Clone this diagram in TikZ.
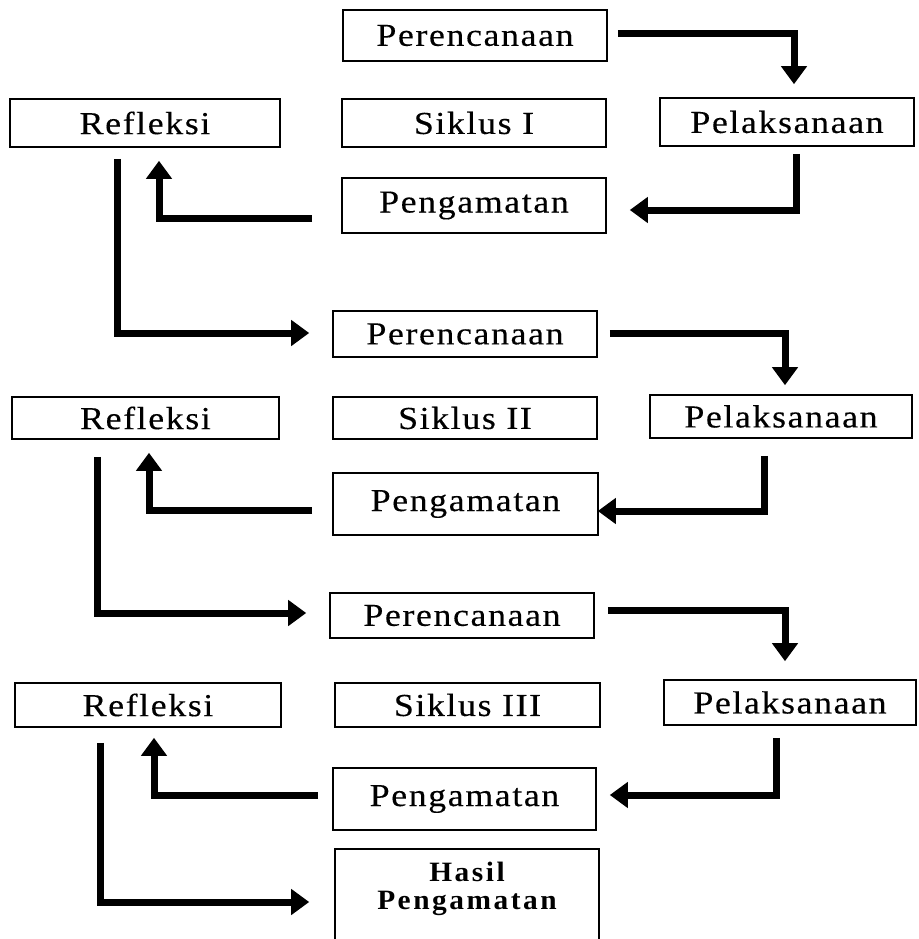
\documentclass[tikz,border=0pt]{standalone}
\usepackage{fontspec}
\setmainfont{Liberation Serif}[FakeStretch=1.12,LetterSpace=5,FakeBold=0.3]
\newfontfamily\hasilfont{Liberation Serif}[FakeStretch=1.05,LetterSpace=9]
\usetikzlibrary{arrows.meta}
\begin{document}
\begin{tikzpicture}[x=1pt,y=-1pt,
  box/.style={draw,line width=1.6pt,rectangle,inner sep=0pt,
    font=\fontsize{32}{36}\selectfont},
  arr/.style={line width=7pt,line join=miter,
    -{Triangle[width=25pt,length=18pt]}}]
\useasboundingbox (0,0) rectangle (918,939);
\clip (0,0) rectangle (918,939);
% ---- Siklus I
\node[box,minimum width=264pt,minimum height=51pt] (P1) at (475,35.5) {Perencanaan};
\node[box,minimum width=270pt,minimum height=48pt] (R1) at (145,123) {Refleksi};
\node[box,minimum width=264pt,minimum height=48pt] (S1) at (474,123) {Siklus I};
\node[box,minimum width=254pt,minimum height=48pt] (L1) at (787,122) {Pelaksanaan};
\node[box,minimum width=264pt,minimum height=55pt] (G1) at (474,205.5) {Pengamatan};
% ---- Siklus II
\node[box,minimum width=264pt,minimum height=46pt] (P2) at (465,334) {Perencanaan};
\node[box,minimum width=267pt,minimum height=42pt] (R2) at (145.5,418) {Refleksi};
\node[box,minimum width=264pt,minimum height=42pt] (S2) at (465,418) {Siklus II};
\node[box,minimum width=262pt,minimum height=43pt] (L2) at (781,416.5) {Pelaksanaan};
\node[box,minimum width=265pt,minimum height=62pt] (G2) at (465.5,504) {Pengamatan};
% ---- Siklus III
\node[box,minimum width=264pt,minimum height=45pt] (P3) at (462,615.5) {Perencanaan};
\node[box,minimum width=266pt,minimum height=44pt] (R3) at (148,705) {Refleksi};
\node[box,minimum width=265pt,minimum height=44pt] (S3) at (467.5,705) {Siklus III};
\node[box,minimum width=252pt,minimum height=45pt] (L3) at (790,702.5) {Pelaksanaan};
\node[box,minimum width=263pt,minimum height=62pt] (G3) at (464.5,799) {Pengamatan};
\node[box,minimum width=264pt,minimum height=101pt,
  font=\hasilfont\bfseries\fontsize{28}{28}\selectfont] (H) at (467,899.5)
  {\raisebox{10pt}[\height][\depth]{\begin{tabular}{@{}c@{}}Hasil\\Pengamatan\end{tabular}}};
% ---- arrows Siklus I
\draw[arr] ([xshift=10pt,yshift=2pt]P1.east) -| ([xshift=7pt,yshift=13pt]L1.north);
\draw[arr] ([xshift=9pt,yshift=-7pt]L1.south) |- ([xshift=23pt,yshift=-4.5pt]G1.east);
\draw[arr] ([xshift=-29pt,yshift=-12.5pt]G1.west) -| ([xshift=14pt,yshift=-13pt]R1.south);
\draw[arr] ([xshift=-28pt,yshift=-11pt]R1.south) |- ([xshift=-23pt,yshift=1pt]P2.west);
% ---- arrows Siklus II
\draw[arr] ([xshift=12pt,yshift=1pt]P2.east) -| ([xshift=4pt,yshift=9pt]L2.north);
\draw[arr] ([xshift=-17pt,yshift=-17pt]L2.south) |- ([xshift=-1pt,yshift=-7pt]G2.east);
\draw[arr] ([xshift=-20pt,yshift=-6pt]G2.west) -| ([xshift=3.5pt,yshift=-13pt]R2.south);
\draw[arr] ([xshift=-48.5pt,yshift=-17pt]R2.south) |- ([xshift=-23pt,yshift=2.5pt]P3.west);
% ---- arrows Siklus III
\draw[arr] ([xshift=13pt,yshift=5.5pt]P3.east) -| ([xshift=-5pt,yshift=18pt]L3.north);
\draw[arr] ([xshift=-14pt,yshift=-12pt]L3.south) |- ([xshift=13pt,yshift=4pt]G3.east);
\draw[arr] ([xshift=-14pt,yshift=4pt]G3.west) -| ([xshift=6pt,yshift=-10pt]R3.south);
\draw[arr] ([xshift=-48pt,yshift=-15pt]R3.south) |- ([xshift=-25pt,yshift=-2.5pt]H.west);
\end{tikzpicture}
\end{document}
